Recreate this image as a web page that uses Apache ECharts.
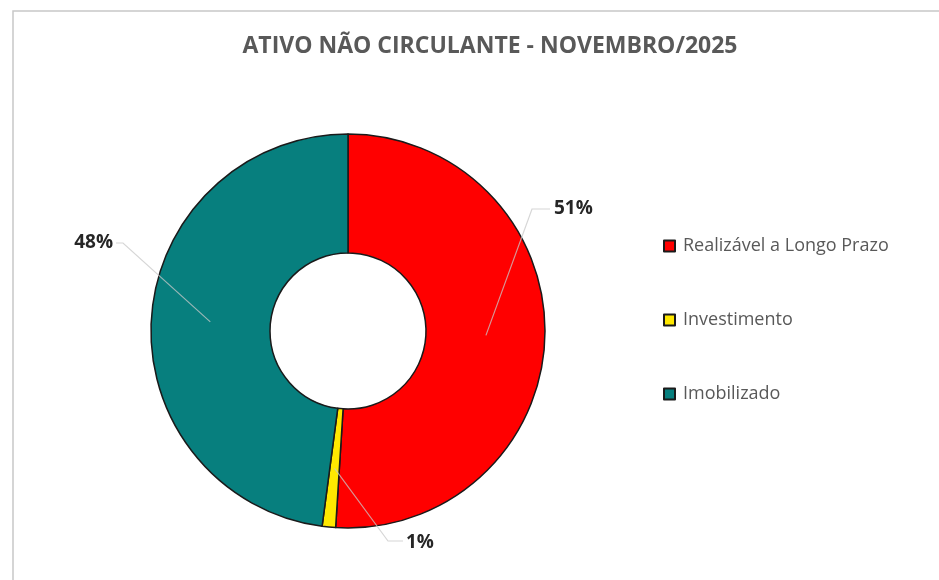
<!DOCTYPE html>
<html>
<head>
<meta charset="utf-8">
<script src="https://cdn.jsdelivr.net/npm/echarts@6/dist/echarts.min.js"></script>
<style>
html,body{margin:0;padding:0;background:#fff;overflow:hidden;}
#chart{width:939px;height:580px;}
</style>
</head>
<body>
<div id="chart"></div>
<script>
const titleText = 'ATIVO NÃO CIRCULANTE - NOVEMBRO/2025';
const categories = ['Realizável a Longo Prazo', 'Investimento', 'Imobilizado'];
const values = [51.0, 1.1, 47.9];
const colors = ['#FF0000', '#FFE800', '#077F7E'];

const CX = 348, CY = 331, R_IN = 78, R_OUT = 197, R_MID = 138;
// label placement (layout only): [labelX, labelY, align, bendX, bendY, endX]
const labelPlace = [
  [554, 209, 'left', 532, 209, 550],
  [406, 543, 'left', 388, 541, 403],
  [113, 243, 'right', 123, 243, 116]
];

const data = categories.map((c, i) => ({ name: c, value: values[i], itemStyle: { color: colors[i] } }));
const total = values.reduce((a, b) => a + b, 0);

const chart = echarts.init(document.getElementById('chart'), null, { renderer: 'canvas' });
chart.setOption({
  backgroundColor: '#ffffff',
  animation: false,
  title: {
    text: titleText,
    left: 485, top: 30, textAlign: 'center',
    textStyle: { fontFamily: 'Open Sans', fontWeight: 'bold', fontSize: 23, color: '#595959' }
  },
  graphic: [{
    type: 'rect', shape: { x: 13, y: 11, width: 1200, height: 800 },
    style: { fill: 'none', stroke: '#C8C8C8', lineWidth: 1.5 }, silent: true, z: -1
  }],
  legend: {
    data: categories,
    orient: 'vertical', left: 658, top: 232,
    itemWidth: 11, itemHeight: 11, itemGap: 56,
    icon: 'rect',
    textStyle: { fontFamily: 'Open Sans', fontSize: 18, color: '#595959', padding: [0, 0, 0, 3] }
  },
  series: [{
    type: 'pie',
    center: [CX, CY],
    radius: [R_IN, R_OUT],
    startAngle: 90,
    clockwise: true,
    silent: true,
    label: { show: false },
    labelLine: { show: false },
    itemStyle: { borderColor: '#1a1a1a', borderWidth: 1.5 },
    data: data
  }, {
    type: 'pie',
    center: [CX, CY],
    radius: [0, R_MID],
    startAngle: 90,
    clockwise: true,
    silent: true,
    z: 5,
    itemStyle: { color: 'rgba(0,0,0,0)', borderWidth: 0 },
    emphasis: { disabled: true },
    label: {
      show: true, position: 'outside',
      formatter: p => Math.round(p.value / total * 100) + '%',
      fontFamily: 'Open Sans', fontWeight: 'bold', fontSize: 19, color: '#262626'
    },
    labelLine: { show: true, length: 10, length2: 10, lineStyle: { color: 'rgba(200,200,200,0.75)', width: 1.2 } },
    labelLayout: function (params) {
      const lp = labelPlace[params.dataIndex];
      const a = params.labelLinePoints ? params.labelLinePoints[0] : [CX, CY];
      return {
        x: lp[0], y: lp[1], align: lp[2], verticalAlign: 'middle',
        labelLinePoints: [[a[0], a[1]], [lp[3], lp[4]], [lp[5], lp[4]]]
      };
    },
    data: categories.map((c, i) => ({ name: c, value: values[i] }))
  }]
});
</script>
</body>
</html>
